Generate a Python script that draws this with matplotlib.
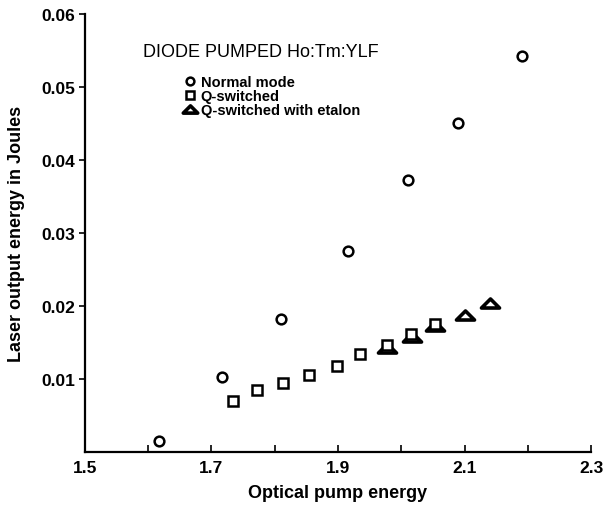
import numpy as np
import matplotlib.pyplot as plt
from matplotlib.path import Path

plt.rcParams['font.family'] = ['Liberation Sans', 'DejaVu Sans']

# normal mode (circles)
normal_x = [1.617, 1.717, 1.810, 1.916, 2.011, 2.090, 2.191]
normal_y = [0.0015, 0.0103, 0.0182, 0.0276, 0.0373, 0.0450, 0.0542]

# q-switched (squares)
qs_x = [1.734, 1.772, 1.813, 1.854, 1.899, 1.935, 1.978, 2.016, 2.053]
qs_y = [0.0070, 0.0085, 0.0095, 0.0105, 0.0118, 0.0134, 0.0147, 0.0161, 0.0175]

# q-switched with etalon (triangles)
et_x = [1.977, 2.017, 2.053, 2.101, 2.141]
et_y = [0.0143, 0.0157, 0.0173, 0.0188, 0.0204]

xticks = [1.5, 1.6, 1.7, 1.8, 1.9, 2.0, 2.1, 2.2, 2.3]
xlabels = ['1.5', '', '1.7', '', '1.9', '', '2.1', '', '2.3']
yticks = [0.01, 0.02, 0.03, 0.04, 0.05, 0.06]

# flat wide triangle like the original plot symbol
tri = Path([(-1, -0.5), (1, -0.5), (0, 0.5), (-1, -0.5)],
           [Path.MOVETO, Path.LINETO, Path.LINETO, Path.CLOSEPOLY])

fig = plt.figure(figsize=(6.04, 5.10), dpi=100, facecolor='w')
ax = fig.add_axes([0.1407, 0.1118, 0.8378, 0.8588])

ax.plot(normal_x, normal_y, 'o', ls='none', ms=7, mfc='white', mec='black',
        mew=1.8, label='Normal mode', zorder=3)
ax.plot(et_x, et_y, marker=tri, ls='none', ms=13, mfc='white', mec='black',
        mew=2.6, label='Q-switched with etalon', zorder=3)
ax.plot(qs_x, qs_y, 's', ls='none', ms=6.5, mfc='white', mec='black',
        mew=1.8, label='Q-switched', zorder=4)

ax.set_xlim(1.5, 2.3)
ax.set_ylim(0, 0.06)
ax.set_xticks(xticks)
ax.set_xticklabels(xlabels)
ax.set_yticks(yticks)
ax.set_yticklabels(['%.2f' % v for v in yticks])

ax.spines['top'].set_visible(False)
ax.spines['right'].set_visible(False)
for s in ['left', 'bottom']:
    ax.spines[s].set_linewidth(1.6)
ax.tick_params(axis='x', direction='in', length=5, width=1.2, pad=6)
ax.tick_params(axis='y', direction='out', length=4, width=1.2, pad=3)
for lab in ax.get_xticklabels() + ax.get_yticklabels():
    lab.set_fontsize(12.5)
    lab.set_fontweight('bold')

ax.set_xlabel('Optical pump energy', fontsize=13, fontweight='bold', labelpad=6)
ax.set_ylabel('Laser output energy in Joules', fontsize=13, fontweight='bold', labelpad=12)

ax.text(0.1146, 0.9155, 'DIODE PUMPED Ho:Tm:YLF', transform=ax.transAxes,
        fontsize=13, va='center', ha='left')

h, l = ax.get_legend_handles_labels()
order = [0, 2, 1]
leg = ax.legend([h[i] for i in order], [l[i] for i in order],
                loc='upper left', bbox_to_anchor=(0.19, 0.861), frameon=False,
                handlelength=1.2, handletextpad=0.15, labelspacing=0.0,
                borderpad=0, borderaxespad=0, markerscale=0.8,
                prop={'size': 10.5, 'weight': 'bold'})

fig.savefig('out.png', dpi=100)
